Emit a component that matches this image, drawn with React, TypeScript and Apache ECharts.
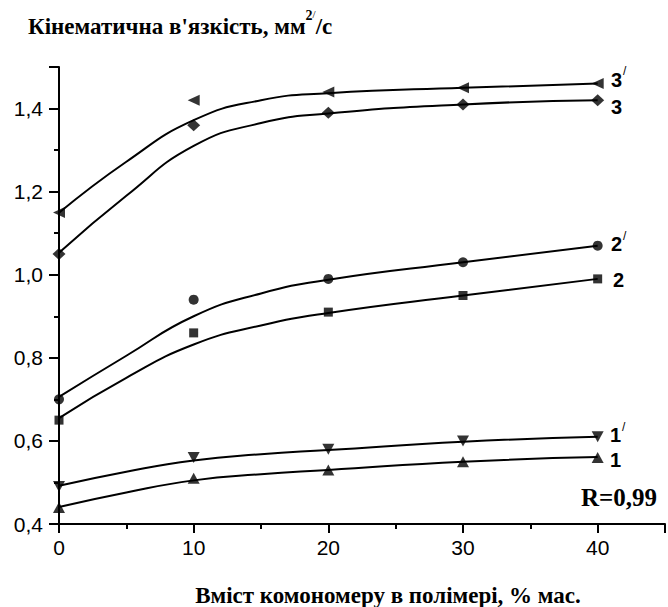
import { useEffect, useRef } from 'react';
import * as echarts from 'echarts';

// measured points (x = comonomer content, % mass)
const xPoints = [0, 10, 20, 30, 40];
const s1 = [0.44, 0.51, 0.53, 0.55, 0.56];
const s1p = [0.49, 0.56, 0.58, 0.6, 0.61];
const s2 = [0.65, 0.86, 0.91, 0.95, 0.99];
const s2p = [0.7, 0.94, 0.99, 1.03, 1.07];
const s3 = [1.05, 1.36, 1.39, 1.41, 1.42];
const s3p = [1.15, 1.42, 1.44, 1.45, 1.46];

// fitted curves
const xFit = [0, 5, 10, 15, 20, 30, 40];
const fit1 = [0.441, 0.476, 0.505, 0.52, 0.53, 0.55, 0.561];
const fit1p = [0.492, 0.526, 0.553, 0.568, 0.578, 0.598, 0.61];
const fit2 = [0.655, 0.752, 0.832, 0.878, 0.908, 0.95, 0.99];
const fit2p = [0.706, 0.805, 0.9, 0.955, 0.988, 1.03, 1.07];
const fit3 = [1.053, 1.19, 1.31, 1.365, 1.388, 1.41, 1.42];
const fit3p = [1.149, 1.272, 1.372, 1.42, 1.437, 1.45, 1.46];

const pair = (xs: number[], ys: number[]) => xs.map((x, i) => [x, ys[i]]);

const SANS = 'Liberation Sans';
const SERIF = 'Liberation Serif';

export default function App() {
  const ref = useRef<HTMLDivElement>(null);
  useEffect(() => {
    const chart = echarts.init(ref.current!, null, { renderer: 'svg' });
    const black = '#000';
    const lineSeries = (d: number[]) => ({
      type: 'line',
      data: pair(xFit, d),
      smooth: 0.5,
      showSymbol: false,
      symbol: 'none',
      lineStyle: { color: black, width: 2 },
      z: 2,
      silent: true,
    });
    const pointSeries = (d: number[], symbol: string, size: any, rotate = 0) => ({
      type: 'scatter',
      data: pair(xPoints, d),
      symbol,
      symbolSize: size,
      symbolRotate: rotate,
      itemStyle: { color: black },
      z: 3,
    });
    const txt = (text: string, x: number, y: number, family: string, size: number, weight: string) => ({
      type: 'text',
      x,
      y,
      style: {
        text,
        fontFamily: family,
        fontSize: size,
        fontWeight: weight,
        fill: black,
        verticalAlign: 'middle',
        textAlign: 'left',
      },
    });
    chart.setOption({
      animation: false,
      backgroundColor: '#fff',
      grid: { left: 59, right: -3, top: 67, bottom: 83, containLabel: false },
      xAxis: {
        type: 'value',
        min: 0,
        max: 45,
        interval: 10,
        axisLine: { show: true, lineStyle: { color: black, width: 2 } },
        axisTick: { show: true, length: 9, lineStyle: { color: black, width: 2 } },
        minorTick: { show: true, splitNumber: 2, length: 5, lineStyle: { color: black, width: 2 } },
        splitLine: { show: false },
        axisLabel: {
          color: black,
          fontSize: 21,
          fontFamily: SANS,
          margin: 13,
          formatter: (v: number) => (v > 40 ? '' : String(v)),
        },
      },
      yAxis: {
        type: 'value',
        min: 0.4,
        max: 1.5,
        interval: 0.2,
        axisLine: { show: true, lineStyle: { color: black, width: 2 } },
        axisTick: { show: true, length: 10, lineStyle: { color: black, width: 2 } },
        minorTick: { show: true, splitNumber: 2, length: 5, lineStyle: { color: black, width: 2 } },
        splitLine: { show: false },
        axisLabel: {
          color: black,
          fontSize: 21,
          fontFamily: SANS,
          margin: 16,
          formatter: (v: number) => (v > 1.45 ? '' : v.toFixed(1).replace('.', ',')),
        },
      },
      series: [
        lineSeries(fit1),
        lineSeries(fit1p),
        lineSeries(fit2),
        lineSeries(fit2p),
        lineSeries(fit3),
        lineSeries(fit3p),
        pointSeries(s1, 'triangle', [12, 11], 0),
        pointSeries(s1p, 'triangle', [12, 11], 180),
        pointSeries(s2, 'rect', 9),
        pointSeries(s2p, 'circle', 10),
        pointSeries(s3, 'diamond', [13, 12]),
        pointSeries(s3p, 'triangle', [11, 12], 90),
      ],
      graphic: [
        {
          type: 'text',
          x: 28,
          y: 26,
          style: {
            text: "{a|Кінематична в'язкість, мм}{s|2}{p|/}{a|/с}",
            fill: black,
            verticalAlign: 'middle',
            rich: {
              a: { fontFamily: SERIF, fontWeight: 'bold', fontSize: 23, lineHeight: 36, fill: black },
              s: { fontFamily: SERIF, fontWeight: 'bold', fontSize: 14, lineHeight: 14, verticalAlign: 'top', fill: black },
              p: { fontFamily: SERIF, fontWeight: 'normal', fontSize: 11, lineHeight: 14, verticalAlign: 'top', fill: black },
            },
          },
        },
        {
          type: 'text',
          x: 388,
          y: 595,
          style: {
            text: 'Вміст комономеру в полімері, % мас.',
            fontFamily: SERIF,
            fontWeight: 'bold',
            fontSize: 23,
            fill: black,
            textAlign: 'center',
            verticalAlign: 'middle',
          },
        },
        txt('R=0,99', 581, 497, SERIF, 25, 'bold'),
        txt('3', 611, 80, SANS, 20, 'bold'),
        txt('/', 623, 71, SANS, 12, 'normal'),
        txt('3', 611, 107, SANS, 20, 'bold'),
        txt('2', 611, 244, SANS, 20, 'bold'),
        txt('/', 623, 236, SANS, 12, 'normal'),
        txt('2', 613, 280, SANS, 20, 'bold'),
        txt('1', 610, 435, SANS, 20, 'bold'),
        txt('/', 622, 427, SANS, 12, 'normal'),
        txt('1', 610, 460, SANS, 20, 'bold'),
      ],
    });
    return () => chart.dispose();
  }, []);
  return <div ref={ref} style={{ position: 'fixed', left: 0, top: 0, width: 668, height: 607 }} />;
}
